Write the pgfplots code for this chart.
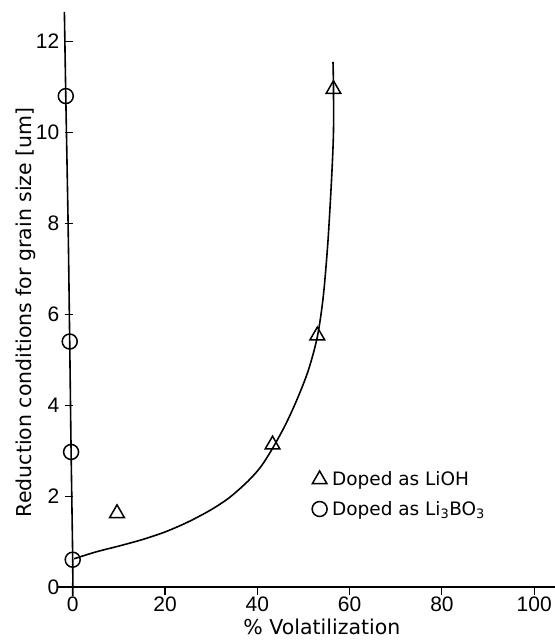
\documentclass[border=0pt]{standalone}
\usepackage{fontspec}
\setmainfont{DejaVu Sans}
\newfontfamily\lib{Liberation Sans}
\usepackage{pgfplots}
\pgfplotsset{compat=1.18}
\begin{document}
\begin{tikzpicture}
\begin{axis}[
  scale only axis,
  width=497.6bp, height=584.7bp,
  xmin=-3.2, xmax=104.5, ymin=-0.2, ymax=12.65,
  axis x line=middle, axis y line=middle,
  axis line style={-, line width=1.3bp},
  y axis line style={draw=none},
  hide obscured x ticks=false, hide obscured y ticks=false,
  xtick={0,20,40,60,80,100}, ytick={0,2,4,6,8,10,12},
  tick align=outside,
  major tick length=8bp,
  major tick style={line width=1.1bp, black},
  /pgf/number format/assume math mode=true,
  ticklabel style={font=\lib\fontsize{21bp}{25bp}\selectfont},
  xticklabel style={yshift=2bp},
  yticklabel style={xshift=-2bp},
  xlabel={\% Volatilization},
  ylabel={Reduction conditions for grain size [um]},
  xlabel style={at={(axis description cs:0.531,0.0156)}, anchor=base, yshift=-48bp, font=\fontsize{20.5bp}{24bp}\selectfont},
  ylabel style={at={(axis description cs:-0.0523,0.486)}, rotate=90, anchor=base, font=\fontsize{20.5bp}{24bp}\selectfont},
  legend style={draw=none, fill=none, at={(axis description cs:0.505,0.22)}, anchor=north west,
    font=\fontsize{18.5bp}{22bp}\selectfont, row sep=10bp, legend cell align=left,
    nodes={inner xsep=5bp}},
  legend image code/.code={\draw[#1] plot coordinates {(0.3cm,0cm)};},
  clip=false,
]
% curve for LiOH
\addplot[black, line width=1.6bp, smooth, forget plot] coordinates {
 (0.3,0.62) (5,0.77) (10,0.9) (15,1.04) (20,1.21) (25,1.43) (30,1.7) (34,1.97)
 (38,2.33) (40.8,2.65) (43.3,3.05) (46,3.55) (48.5,4.1) (51,4.75) (53,5.5) (54.3,6.4) (55.3,7.6) (56.1,9) (56.5,10) (56.5,11) (56.4,11.55)};
% curve for Li3BO3
\addplot[black, line width=1.6bp, smooth, forget plot] coordinates {
 (0,-0.2) (0,0.6) (-0.35,3.0) (-0.65,5.4) (-1.0,8) (-1.5,10.8) (-1.8,12.65)};
\addplot[only marks, mark=triangle, mark size=8.5bp, mark options={line width=1.5bp, fill=white}] coordinates {
 (9.6,1.62) (43.3,3.13) (53,5.53) (56.5,10.95)};
\addlegendentry{Doped as LiOH}
\addplot[only marks, mark=o, mark size=7.5bp, mark options={line width=1.5bp, fill=white}] coordinates {
 (0,0.6) (-0.35,2.97) (-0.65,5.4) (-1.5,10.8)};
\addlegendentry{Doped as Li\textsubscript{3}BO\textsubscript{3}}
\end{axis}
\pgfresetboundingbox
\path ([xshift=-58bp,yshift=-48bp]current axis.south west) rectangle ([yshift=12bp]current axis.north east);
\end{tikzpicture}
\end{document}
